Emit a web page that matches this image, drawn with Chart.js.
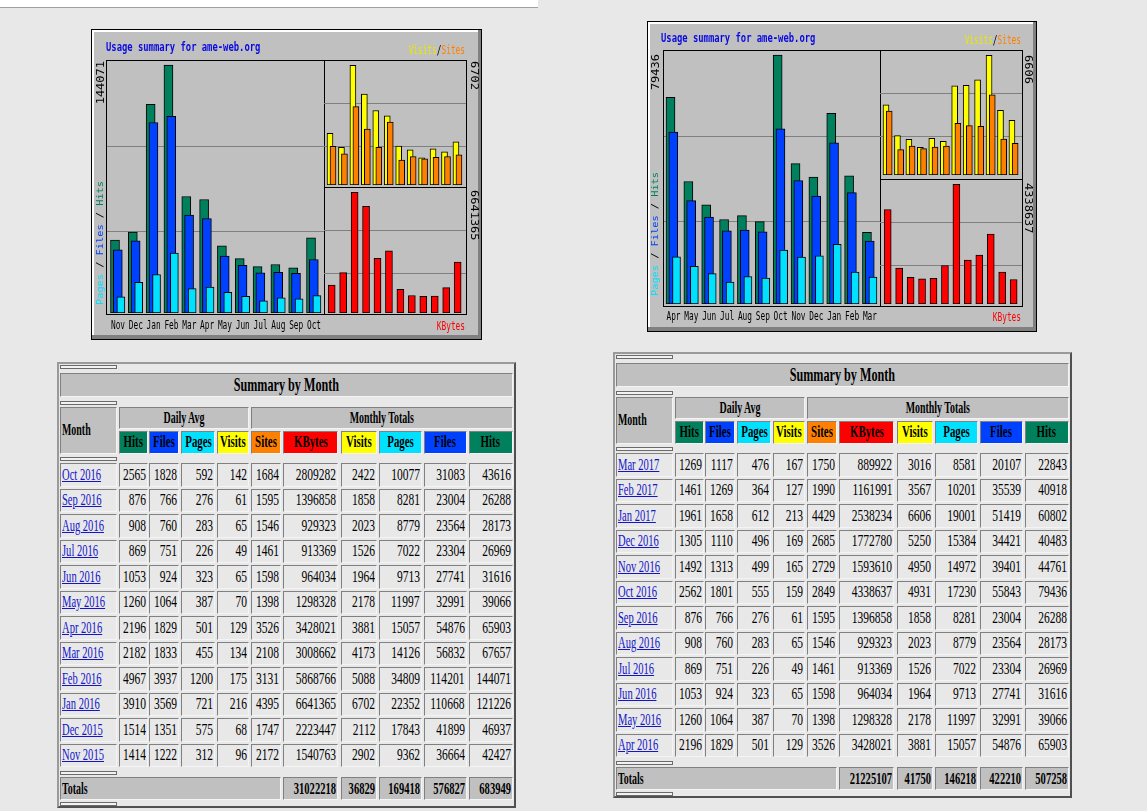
<!DOCTYPE html>
<html><head><meta charset="utf-8">
<script src="https://cdn.jsdelivr.net/npm/chart.js@4.4.0/dist/chart.umd.min.js"></script>
<style>
html,body{margin:0;padding:0;}
body{width:1147px;height:811px;background:#e8e8e8;position:relative;overflow:hidden;font-family:"Liberation Serif","Times New Roman",serif;}
#topband{position:absolute;left:0;top:0;width:538px;height:7px;background:#fff;border-bottom:1px solid #a0a0a0;}
canvas{position:absolute;}
.tbl{position:absolute;box-sizing:border-box;background:#e8e8e8;border:2px solid;border-color:#9a9a9a #505050 #505050 #9a9a9a;}
.cell{position:absolute;box-sizing:border-box;border:1px solid;border-color:#808080 #f4f4f4 #f4f4f4 #808080;overflow:visible;white-space:nowrap;display:flex;align-items:center;background:#e8e8e8;color:#000;}
.cell span{display:inline-block;}
.sep{position:absolute;box-sizing:border-box;border:1px solid #6a6a6a;background:#f2f2f2;}
</style>
</head><body>
<div id="topband"></div>
<script>
// ---------- data (chronological order) ----------
const monthsL = ['Nov 2015','Dec 2015','Jan 2016','Feb 2016','Mar 2016','Apr 2016','May 2016','Jun 2016','Jul 2016','Aug 2016','Sep 2016','Oct 2016'];
const avgHitsL   = [1414,1514,3910,4967,2182,2196,1260,1053,869,908,876,2565];
const avgFilesL  = [1222,1351,3569,3937,1833,1829,1064,924,751,760,766,1828];
const avgPagesL  = [312,575,721,1200,455,501,387,323,226,283,276,592];
const avgVisitsL = [96,68,216,175,134,129,70,65,49,65,61,142];
const sitesL  = [2172,1747,4395,3131,2108,3526,1398,1598,1461,1546,1595,1684];
const kbytesL = [1540763,2223447,6641365,5868766,3008662,3428021,1298328,964034,913369,929323,1396858,2809282];
const visitsL = [2902,2112,6702,5088,4173,3881,2178,1964,1526,2023,1858,2422];
const pagesL  = [9362,17843,22352,34809,14126,15057,11997,9713,7022,8779,8281,10077];
const filesL  = [36664,41899,110668,114201,56832,54876,32991,27741,23304,23564,23004,31083];
const hitsL   = [42427,46937,121226,144071,67657,65903,39066,31616,26969,28173,26288,43616];
const totalsL = [31022218,36829,169418,576827,683949];

const monthsR = ['Apr 2016','May 2016','Jun 2016','Jul 2016','Aug 2016','Sep 2016','Oct 2016','Nov 2016','Dec 2016','Jan 2017','Feb 2017','Mar 2017'];
const avgHitsR   = [2196,1260,1053,869,908,876,2562,1492,1305,1961,1461,1269];
const avgFilesR  = [1829,1064,924,751,760,766,1801,1313,1110,1658,1269,1117];
const avgPagesR  = [501,387,323,226,283,276,555,499,496,612,364,476];
const avgVisitsR = [129,70,65,49,65,61,159,165,169,213,127,167];
const sitesR  = [3526,1398,1598,1461,1546,1595,2849,2729,2685,4429,1990,1750];
const kbytesR = [3428021,1298328,964034,913369,929323,1396858,4338637,1593610,1772780,2538234,1161991,889922];
const visitsR = [3881,2178,1964,1526,2023,1858,4931,4950,5250,6606,3567,3016];
const pagesR  = [15057,11997,9713,7022,8779,8281,17230,14972,15384,19001,10201,8581];
const filesR  = [54876,32991,27741,23304,23564,23004,55843,39401,34421,51419,35539,20107];
const hitsR   = [65903,39066,31616,26969,28173,26288,79436,44761,40483,60802,40918,22843];
const totalsR = [21225107,41750,146218,422210,507258];

const chartTitle = 'Usage summary for ame-web.org';
const tableTitle = 'Summary by Month';
const colHeads = ['Hits','Files','Pages','Visits','Sites','KBytes','Visits','Pages','Files','Hits'];

// ---------- styles ----------
const C = {hits:'#00805c', files:'#0040ff', pages:'#00e0ff', visits:'#ffff00', sites:'#ff8000', kbytes:'#ff0000'};
const headColors = [C.hits,C.files,C.pages,C.visits,C.sites,C.kbytes,C.visits,C.pages,C.files,C.hits];

const GL = {
  frame:{x:91,y:29,w:391,h:311},
  main:{l:106,r:324,t:60,b:313,c0:115,step:17.82,offF:2.8,offP:5.9,lab:3,box:[106,60,324,314]},
  tr:{l:324,r:466,t:60,b:185,c0:330,step:11.45,offS:3,box:[324,60,466,187]},
  br:{l:324,r:466,t:187,b:313,c0:331.7,step:11.45,box:[324,187,466,314]},
  title:{x:106,y:48}, vs:{x:465,y:51}, kb:{x:465,y:327}, monthY:326.3,
  lx:101, maxTop:61, pfhBottom:305, rx:474, rTop1:61, rTop2:190
};
const GR = {
  frame:{x:647,y:21,w:390,h:311},
  main:{l:663,r:880,t:50,b:304,c0:670.5,step:17.86,offF:2.8,offP:6,lab:3,box:[663,50,880,306]},
  tr:{l:880,r:1022,t:50,b:175,c0:886,step:11.45,offS:3.2,box:[880,50,1022,179]},
  br:{l:880,r:1022,t:179,b:304,c0:887.7,step:11.45,box:[880,179,1022,306]},
  title:{x:661,y:38.7}, vs:{x:1021,y:41.3}, kb:{x:1021,y:318}, monthY:317,
  lx:656, maxTop:54, pfhBottom:296, rx:1028, rTop1:55, rTop2:183
};
const MONO = '"DejaVu Sans Mono", monospace';

function txt(ctx, s, x, y, font, color, align, sx){
  ctx.save(); ctx.translate(x,y); ctx.scale(sx,1);
  ctx.font = font; ctx.fillStyle = color; ctx.textAlign = align; ctx.textBaseline = 'middle';
  ctx.fillText(s,0,0); ctx.restore();
}
function rotText(ctx, segs, x, y, dir, font, perp, anchorEnd){
  ctx.save(); ctx.font = font;
  let total = 0; segs.forEach(s=>{ total += ctx.measureText(s[0]).width; });
  let y0 = y;
  if (anchorEnd) y0 = y + total;
  ctx.translate(x, y0); ctx.rotate(dir*Math.PI/2); ctx.scale(1, perp);
  ctx.textAlign = 'left'; ctx.textBaseline = 'middle';
  let cx = 0;
  segs.forEach(s=>{ ctx.fillStyle = s[1]; ctx.fillText(s[0], cx, 0); cx += ctx.measureText(s[0]).width; });
  ctx.restore();
}
function gridLines(chart, fracs){
  const ctx = chart.ctx, ys = chart.scales.y, a = chart.chartArea;
  ctx.save(); ctx.strokeStyle = '#808080'; ctx.lineWidth = 1;
  fracs.forEach(f=>{
    const y = Math.round(ys.getPixelForValue(ys.max*f)) + 0.5;
    ctx.beginPath(); ctx.moveTo(a.left, y); ctx.lineTo(a.right, y); ctx.stroke();
  });
  ctx.restore();
}

function makeCanvas(x,y,w,h){
  const cv = document.createElement('canvas');
  cv.width = w; cv.height = h;
  cv.style.left = x+'px'; cv.style.top = y+'px'; cv.style.width = w+'px'; cv.style.height = h+'px';
  document.body.appendChild(cv);
  return cv;
}
const baseOpts = {responsive:false, animation:false, devicePixelRatio:1, events:[],
  plugins:{legend:{display:false}, tooltip:{enabled:false}}};
const barDs = (data, color, thick) => ({data, backgroundColor:color, borderColor:'#000', borderWidth:1,
  borderSkipped:false, barThickness:thick, grouped:false});
const xScale = (min, max) => ({type:'linear', display:false, offset:false, bounds:'data', min, max, grace:0});

function makeGraph(g, d){
  const F = g.frame, m = g.main;
  const cv = makeCanvas(F.x, F.y, F.w, F.h);
  const xmin = -(m.c0 - m.l)/m.step, xmax = xmin + (m.r - m.l)/m.step;
  const pts = (arr, off) => arr.map((v,i)=>({x: i + off/m.step, y: v}));
  const maxHits = Math.max(...d.hits);
  const shortM = d.months.map(s=>s.split(' ')[0]);
  const plug = {
    id:'frame',
    beforeDraw(chart){
      const ctx = chart.ctx, w = F.w, h = F.h;
      ctx.save();
      ctx.fillStyle = '#c0c0c0'; ctx.fillRect(0,0,w,h);
      ctx.fillStyle = '#ffffff'; ctx.fillRect(1,1,w-2,2); ctx.fillRect(1,1,2,h-2);
      ctx.fillStyle = '#808080'; ctx.fillRect(w-4,1,3,h-2); ctx.fillRect(1,h-5,w-2,4);
      ctx.strokeStyle = '#000'; ctx.lineWidth = 1; ctx.strokeRect(0.5,0.5,w-1,h-1);
      ctx.restore();
    },
    beforeDatasetsDraw(chart){ gridLines(chart, [0.325, 0.66]); },
    afterDraw(chart){
      const ctx = chart.ctx, ox = F.x, oy = F.y;
      ctx.save();
      ctx.strokeStyle = '#000'; ctx.lineWidth = 1;
      [m.box, g.tr.box, g.br.box].forEach(b=>{
        ctx.strokeRect(Math.round(b[0]-ox)+0.5, Math.round(b[1]-oy)+0.5, Math.round(b[2]-b[0]), Math.round(b[3]-b[1]));
      });
      ctx.restore();
      txt(ctx, chartTitle, g.title.x-ox, g.title.y-oy, 'bold 13px '+MONO, '#0a0ae0', 'left', 0.68);
      const xs = chart.scales.x;
      shortM.forEach((s,i)=>{
        txt(ctx, s, xs.getPixelForValue(i + m.lab/m.step), g.monthY-oy, '12px '+MONO, '#000', 'center', 0.65);
      });
      const f12 = '12px '+MONO, sx = 0.65;
      ctx.save(); ctx.font = f12;
      const wS = ctx.measureText('Sites').width*sx, wSl = ctx.measureText('/').width*sx;
      ctx.restore();
      txt(ctx, 'Sites', g.vs.x-ox, g.vs.y-oy, f12, C.sites, 'right', sx);
      txt(ctx, '/', g.vs.x-ox-wS, g.vs.y-oy, f12, '#000', 'right', sx);
      txt(ctx, 'Visits', g.vs.x-ox-wS-wSl, g.vs.y-oy, f12, '#e8e800', 'right', sx);
      txt(ctx, 'KBytes', g.kb.x-ox, g.kb.y-oy, f12, C.kbytes, 'right', sx);
      rotText(ctx, [[String(maxHits),'#000']], g.lx-ox, g.maxTop-oy, -1, '12px '+MONO, 0.85, true);
      rotText(ctx, [['Pages',C.pages],[' / ','#000'],['Files',C.files],[' / ','#000'],['Hits',C.hits]],
              g.lx-ox, g.pfhBottom-oy, -1, '10.3px '+MONO, 0.8, false);
      rotText(ctx, [[String(Math.max(...d.visits)),'#000']], g.rx-ox, g.rTop1-oy, 1, '12px '+MONO, 0.85, false);
      rotText(ctx, [[String(Math.max(...d.kbytes)),'#000']], g.rx-ox, g.rTop2-oy, 1, '12px '+MONO, 0.85, false);
    }
  };
  new Chart(cv, {
    type:'bar',
    data:{datasets:[
      barDs(pts(d.pages, m.offP), C.pages, 8),
      barDs(pts(d.files, m.offF), C.files, 9),
      barDs(pts(d.hits, 0), C.hits, 9)
    ]},
    options:Object.assign({}, baseOpts, {
      layout:{padding:{left:m.l-F.x, right:F.x+F.w-m.r, top:m.t-F.y, bottom:F.y+F.h-m.b}},
      scales:{x:xScale(xmin, xmax),
              y:{display:false, min:0, max:maxHits*1.02}}
    }),
    plugins:[plug]
  });

  const p1 = g.tr;
  const L1 = Math.round(p1.l), T1 = Math.round(p1.t), W1 = Math.round(p1.r)-L1, H1 = Math.round(p1.b)-T1;
  const xmin1 = -(p1.c0 - L1)/p1.step;
  new Chart(makeCanvas(L1,T1,W1,H1), {
    type:'bar',
    data:{datasets:[
      barDs(d.sites.map((v,i)=>({x:i + p1.offS/p1.step, y:v})), C.sites, 6),
      barDs(d.visits.map((v,i)=>({x:i, y:v})), C.visits, 6)
    ]},
    options:Object.assign({}, baseOpts, {
      layout:{padding:0},
      scales:{x:xScale(xmin1, xmin1 + W1/p1.step),
              y:{display:false, min:0, max:Math.max(...d.visits)*1.045}}
    }),
    plugins:[{id:'g1', beforeDatasetsDraw(chart){ gridLines(chart,[0.312,0.653]); }}]
  });

  const p2 = g.br;
  const L2 = Math.round(p2.l), T2 = Math.round(p2.t), W2 = Math.round(p2.r)-L2, H2 = Math.round(p2.b)-T2;
  const xmin2 = -(p2.c0 - L2)/p2.step;
  new Chart(makeCanvas(L2,T2,W2,H2), {
    type:'bar',
    data:{datasets:[ barDs(d.kbytes.map((v,i)=>({x:i, y:v})), C.kbytes, 7) ]},
    options:Object.assign({}, baseOpts, {
      layout:{padding:0},
      scales:{x:xScale(xmin2, xmin2 + W2/p2.step),
              y:{display:false, min:0, max:Math.max(...d.kbytes)*1.045}}
    }),
    plugins:[{id:'g2', beforeDatasetsDraw(chart){ gridLines(chart,[0.315,0.655]); }}]
  });
}

makeGraph(GL, {months:monthsL, hits:hitsL, files:filesL, pages:pagesL, visits:visitsL, sites:sitesL, kbytes:kbytesL});
makeGraph(GR, {months:monthsR, hits:hitsR, files:filesR, pages:pagesR, visits:visitsR, sites:sitesR, kbytes:kbytesR});

// ---------- tables ----------
const cols = [[3,56.7],[61.5,29],[92.2,30],[123.8,34.5],[160,32.3],[194.2,29.8],[225.7,55.8],[283.6,36.5],[321.8,43.1],[366.8,43.1],[411.8,43.8]];
function cell(root, x, y, w, h, text, o){
  o = o || {};
  const c = document.createElement('div'); c.className = 'cell';
  c.style.left = x+'px'; c.style.top = y+'px'; c.style.width = w+'px'; c.style.height = h+'px';
  if (o.bg) c.style.background = o.bg;
  const al = o.align || 'right';
  c.style.justifyContent = al==='right' ? 'flex-end' : (al==='center' ? 'center' : 'flex-start');
  c.style.padding = al==='right' ? '0 1px 0 0' : (al==='left' ? '0 0 0 1px' : '0');
  const s = document.createElement('span'); s.textContent = text;
  s.style.fontSize = (o.size||16)+'px';
  s.style.fontWeight = o.bold ? 'bold' : 'normal';
  if (o.color) s.style.color = o.color;
  if (o.link) s.style.textDecoration = 'underline';
  s.style.transform = 'scaleX('+(o.sx||0.72)+')';
  s.style.transformOrigin = (al==='right'?'right':(al==='center'?'center':'left'))+' center';
  c.appendChild(s); root.appendChild(c);
}
function sep(root, y){
  const s = document.createElement('div'); s.className='sep';
  s.style.left = (cols[0][0]-2)+'px'; s.style.top = (y-2)+'px'; s.style.width = cols[0][1]+'px'; s.style.height = '4px';
  root.appendChild(s);
}
function buildTable(X, Y, d){
  const root = document.createElement('div'); root.className = 'tbl';
  root.style.left = X+'px'; root.style.top = Y+'px'; root.style.width = '459px'; root.style.height = '446px';
  document.body.appendChild(root);
  const o = -2;
  const right = cols[10][0]+cols[10][1];
  const cx = i => cols[i][0]+o, cw = i => cols[i][1];
  sep(root, 3);
  cell(root, cx(0), 10.7+o, right-cols[0][0], 24.6, tableTitle, {bg:'#c0c0c0', align:'center', bold:true, size:19, sx:0.64});
  sep(root, 38.7);
  cell(root, cx(0), 44.7+o, cw(0), 47.3, 'Month', {bg:'#c0c0c0', align:'left', bold:true, sx:0.62});
  cell(root, cx(1), 44.7+o, cols[4][0]+cols[4][1]-cols[1][0], 22.3, 'Daily Avg', {bg:'#c0c0c0', align:'center', bold:true, sx:0.62});
  cell(root, cx(5), 44.7+o, right-cols[5][0], 22.3, 'Monthly Totals', {bg:'#c0c0c0', align:'center', bold:true, sx:0.62});
  colHeads.forEach((h,i)=>{
    cell(root, cx(i+1), 68.7+o, cw(i+1), 23.3, h, {bg:headColors[i], align:'center', bold:true, sx:0.68});
  });
  sep(root, 94.7);
  const n = d.months.length;
  for (let k=0; k<n; k++){
    const i = n-1-k, y = 101.3 + 25.5*k + o;
    cell(root, cx(0), y, cw(0), 23.4, d.months[i], {align:'left', color:'#1414c8', link:true, sx:0.66});
    const vals = [d.avgHits[i], d.avgFiles[i], d.avgPages[i], d.avgVisits[i], d.sites[i], d.kbytes[i], d.visits[i], d.pages[i], d.files[i], d.hits[i]];
    vals.forEach((v,j)=>cell(root, cx(j+1), y, cw(j+1), 23.4, String(v), {}));
  }
  sep(root, 408.7);
  cell(root, cx(0), 415.3+o, cols[5][0]+cols[5][1]-cols[0][0], 22.7, 'Totals', {bg:'#c0c0c0', align:'left', bold:true, sx:0.62});
  d.totals.forEach((v,j)=>cell(root, cx(j+6), 415.3+o, cw(j+6), 22.7, String(v), {bg:'#c0c0c0', bold:true, sx:0.66}));
  sep(root, 439.7);
}
buildTable(57, 362, {months:monthsL, avgHits:avgHitsL, avgFiles:avgFilesL, avgPages:avgPagesL, avgVisits:avgVisitsL,
  sites:sitesL, kbytes:kbytesL, visits:visitsL, pages:pagesL, files:filesL, hits:hitsL, totals:totalsL});
buildTable(613, 352, {months:monthsR, avgHits:avgHitsR, avgFiles:avgFilesR, avgPages:avgPagesR, avgVisits:avgVisitsR,
  sites:sitesR, kbytes:kbytesR, visits:visitsR, pages:pagesR, files:filesR, hits:hitsR, totals:totalsR});
</script>
</body></html>
